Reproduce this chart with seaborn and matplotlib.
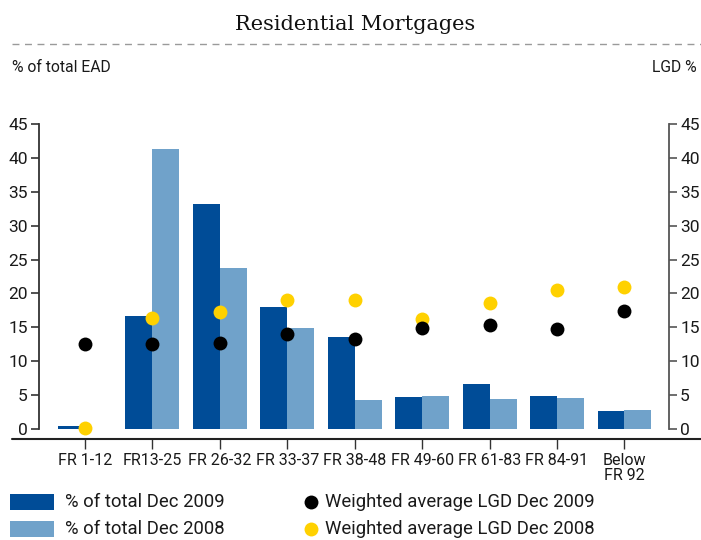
import numpy as np
import pandas as pd
import matplotlib
matplotlib.use("Agg")
import matplotlib.pyplot as plt
import seaborn as sns
from matplotlib.lines import Line2D
from matplotlib.patches import Rectangle

categories = ["FR 1-12", "FR13-25", "FR 26-32", "FR 33-37", "FR 38-48",
              "FR 49-60", "FR 61-83", "FR 84-91", "Below\nFR 92"]
ead_2009 = [0.5, 16.7, 33.2, 18.0, 13.6, 4.7, 6.7, 4.9, 2.6]
ead_2008 = [0.0, 41.3, 23.7, 14.9, 4.3, 4.8, 4.4, 4.6, 2.75]
lgd_2009 = [12.5, 12.5, 12.7, 14.0, 13.3, 14.9, 15.4, 14.8, 17.4]
lgd_2008 = [0.2, 16.4, 17.3, 19.0, 19.0, 16.3, 18.6, 20.5, 21.0]
bar_series = ["% of total Dec 2009", "% of total Dec 2008"]
lgd_series = ["Weighted average LGD Dec 2009", "Weighted average LGD Dec 2008"]
yticks = list(range(0, 50, 5))

sns.set_style("white")
plt.rcParams['font.family'] = ['Roboto', 'DejaVu Sans']

dark = "#004C97"
light = "#70A2CA"
yellow = "#FFD100"
txt = "#1a1a1a"

df = pd.DataFrame({
    "cat": categories * 2,
    "val": ead_2009 + ead_2008,
    "series": [bar_series[0]] * len(categories) + [bar_series[1]] * len(categories),
})

W, H = 701, 540
fig = plt.figure(figsize=(W / 100, H / 100), dpi=100)
ax = fig.add_axes([39 / W, 1 - 439.2 / H, (669 - 39) / W, (439.2 - 124) / H])
sns.barplot(data=df, x="cat", y="val", hue="series", palette=[dark, light],
            saturation=1, width=0.8, ax=ax, legend=False, errorbar=None,
            linewidth=0)
ax2 = ax.twinx()
pos = np.arange(len(categories))
sns.scatterplot(x=pos, y=lgd_2008, color=yellow, s=100, linewidth=0, ax=ax2, zorder=3)
sns.scatterplot(x=pos, y=lgd_2009, color="black", s=100, linewidth=0, ax=ax2, zorder=4)

for a in (ax, ax2):
    a.set_ylim(-1.5, 45)
    a.set_yticks(yticks)
    a.set_xlim(-0.68, 8.66)
    a.set_xlabel("")
    a.set_ylabel("")
    for s in a.spines.values():
        s.set_visible(False)

ax.spines["left"].set_visible(True)
ax.spines["left"].set_bounds(0, 45)
ax.spines["left"].set_color("#333333")
ax.spines["left"].set_linewidth(1.3)
ax2.spines["right"].set_visible(True)
ax2.spines["right"].set_bounds(0, 45)
ax2.spines["right"].set_color("#555555")
ax2.spines["right"].set_linewidth(1.3)

ax.tick_params(axis="y", left=True, right=False, direction="out", length=6,
               width=1.2, color="#333333", pad=2, labelsize=12.5, labelcolor=txt)
ax2.tick_params(axis="y", right=True, left=False, labelright=True, labelleft=False,
                direction="out", length=6, width=1.2, color="#555555", pad=2,
                labelsize=12.5, labelcolor=txt)
ax.tick_params(axis="x", bottom=True, direction="out", length=7, width=1,
               color="#333333", pad=3, labelsize=11.5, labelcolor=txt)
ax.set_xticks(pos)
ax.set_xticklabels(categories, linespacing=1.0)
ax.grid(False)
ax2.grid(False)

# baseline
fig.add_artist(Line2D([12 / W, 1], [1 - 439.2 / H] * 2, color="#222222", lw=1.5))
# title + dashed rule
fig.text(355 / W, 1 - 25 / H, "Residential Mortgages", ha="center", va="center",
         family="DejaVu Serif", size=15, color="#111111")
fig.add_artist(Line2D([12 / W, 1], [1 - 44 / H] * 2, color="#9a9a9a", lw=1,
                      linestyle=(0, (5, 4))))
fig.text(12 / W, 1 - 67 / H, "% of total EAD", ha="left", va="center", size=11.3, color=txt)
fig.text(697 / W, 1 - 67 / H, "LGD %", ha="right", va="center", size=11.3, color=txt)

# legend
for i, (lab, col) in enumerate(zip(bar_series, [dark, light])):
    yc = 502 + 27 * i
    fig.add_artist(Rectangle((10 / W, 1 - (yc + 8) / H), 44 / W, 16 / H,
                             facecolor=col, edgecolor="none", transform=fig.transFigure))
    fig.text(65 / W, 1 - yc / H, lab, ha="left", va="center", size=13.3, color=txt)
for i, (lab, col) in enumerate(zip(lgd_series, ["black", yellow])):
    yc = 502 + 27 * i
    fig.add_artist(Line2D([311 / W], [1 - yc / H], marker="o", markersize=10,
                          markerfacecolor=col, markeredgewidth=0, linestyle="none"))
    fig.text(325 / W, 1 - yc / H, lab, ha="left", va="center", size=13.3, color=txt)

fig.savefig("out.png", dpi=100)
